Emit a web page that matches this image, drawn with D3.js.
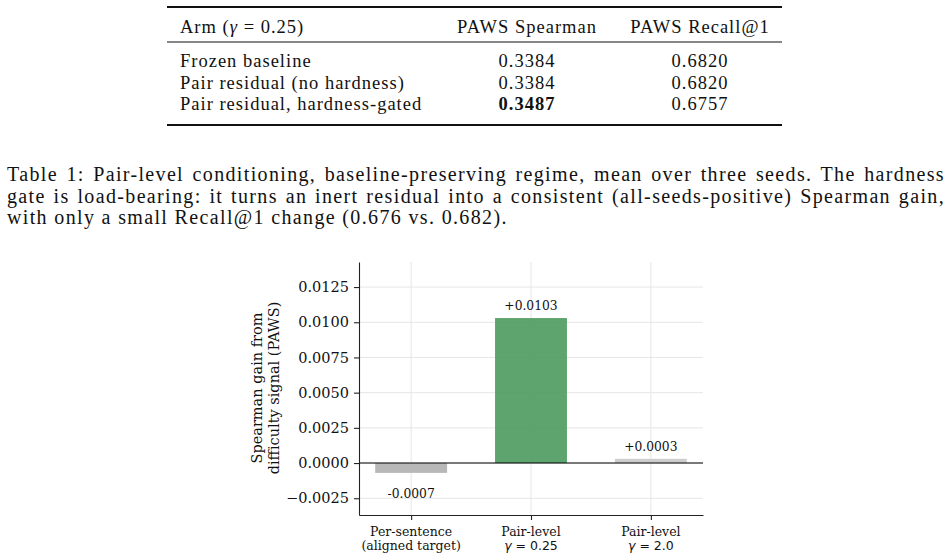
<!DOCTYPE html>
<html>
<head>
<meta charset="utf-8">
<script src="https://cdn.jsdelivr.net/npm/d3@7"></script>
<style>
body{margin:0;background:#fff;}
#canvas{width:950px;height:560px;}
</style>
</head>
<body>
<div id="canvas"></div>
<script>
// table data
var armNames = ["Frozen baseline", "Pair residual (no hardness)", "Pair residual, hardness-gated"];
var spearman = ["0.3384", "0.3384", "0.3487"];
var recall = ["0.6820", "0.6820", "0.6757"];
var colHeaders = ["PAWS Spearman", "PAWS Recall@1"];
var bestRow = 2;

var captionLines = [
	"Table 1: Pair-level conditioning, baseline-preserving regime, mean over three seeds. The hardness",
	"gate is load-bearing: it turns an inert residual into a consistent (all-seeds-positive) Spearman gain,",
	"with only a small Recall@1 change (0.676 vs. 0.682)."
];

// chart data
var catTop = ["Per-sentence", "Pair-level", "Pair-level"];
var catBottom = ["(aligned target)", "0.25", "2.0"];
var gains = [-0.0007, 0.0103, 0.0003];
var yTicks = [-0.0025, 0, 0.0025, 0.005, 0.0075, 0.01, 0.0125];

var barColors = ["#b0b0b0", "#4c9a5e", "#c8c8c8"];

var TEX = "'Liberation Serif', 'Times New Roman', serif";
var MPL_SERIF = "'DejaVu Serif', serif";
var MPL_SANS = "'DejaVu Sans', sans-serif";

var svg;

var init = function(){
	svg = d3.select("#canvas").append("svg")
		.attr("width", 950)
		.attr("height", 560)
		.style("background", "#fff");
	drawTable();
	drawCaption();
	drawChart();
}

var drawTable = function(){
	var g = svg.append("g")
		.attr("font-family", TEX)
		.attr("font-size", "18.5px")
		.attr("letter-spacing", "1px")
		.attr("fill", "#111");
	var left = 167, right = 782;
	var c1 = 180, c2 = 527, c3 = 700;

	g.append("line").attr("x1", left).attr("x2", right).attr("y1", 7).attr("y2", 7)
		.attr("stroke", "#111").attr("stroke-width", 2);
	g.append("line").attr("x1", left).attr("x2", right).attr("y1", 42).attr("y2", 42)
		.attr("stroke", "#111").attr("stroke-width", 1.2);
	g.append("line").attr("x1", left).attr("x2", right).attr("y1", 125).attr("y2", 125)
		.attr("stroke", "#111").attr("stroke-width", 2);

	var h = g.append("text").attr("x", c1).attr("y", 33);
	h.append("tspan").text("Arm (");
	h.append("tspan").attr("font-style", "italic").text("γ");
	h.append("tspan").text(" = 0.25)");

	g.append("text").attr("x", c2).attr("y", 33).attr("text-anchor", "middle").text(colHeaders[0]);
	g.append("text").attr("x", c3).attr("y", 33).attr("text-anchor", "middle").text(colHeaders[1]);

	var rowY = [67, 88.5, 110];
	armNames.forEach(function(name, i){
		g.append("text").attr("x", c1).attr("y", rowY[i]).text(name);
		g.append("text").attr("x", c2).attr("y", rowY[i]).attr("text-anchor", "middle")
			.attr("font-weight", i == bestRow ? "bold" : null)
			.text(spearman[i]);
		g.append("text").attr("x", c3).attr("y", rowY[i]).attr("text-anchor", "middle")
			.text(recall[i]);
	});
}

var drawCaption = function(){
	var g = svg.append("g")
		.attr("font-family", TEX)
		.attr("font-size", "20px")
		.attr("letter-spacing", "1.35px")
		.attr("fill", "#111");
	var lineY = [181, 202.5, 224];
	var x0 = 7, x1 = 945;
	captionLines.forEach(function(line, i){
		var t = g.append("text").attr("x", x0).attr("y", lineY[i]).text(line);
		// justify the full lines by widening the word gaps
		if(i < captionLines.length - 1){
			var w = t.node().getComputedTextLength();
			var gaps = line.split(" ").length - 1;
			t.attr("word-spacing", ((x1 - x0 - w) / gaps) + "px");
		}
	});
}

var drawChart = function(){
	var x = d3.scaleLinear().domain([-0.435, 2.435]).range([359, 703]);
	var y = d3.scaleLinear().domain([-0.00369, 0.01428]).range([515, 262]);
	var barW = x(0.3) - x(-0.3);

	var g = svg.append("g");

	// grid
	g.append("g").selectAll("line").data(yTicks).enter().append("line")
		.attr("x1", x.range()[0]).attr("x2", x.range()[1])
		.attr("y1", function(d){ return y(d); }).attr("y2", function(d){ return y(d); })
		.attr("stroke", "#e6e6e6").attr("stroke-width", 1);
	g.append("g").selectAll("line").data(gains).enter().append("line")
		.attr("x1", function(d, i){ return x(i); }).attr("x2", function(d, i){ return x(i); })
		.attr("y1", y.range()[0]).attr("y2", y.range()[1])
		.attr("stroke", "#e6e6e6").attr("stroke-width", 1);

	// bars
	g.append("g").selectAll("rect").data(gains).enter().append("rect")
		.attr("x", function(d, i){ return x(i) - barW / 2; })
		.attr("width", barW)
		.attr("y", function(d){ return y(Math.max(0, d)); })
		.attr("height", function(d){ return Math.abs(y(d) - y(0)); })
		.attr("fill", function(d, i){ return barColors[i]; })
		.attr("fill-opacity", 0.9);

	// zero line
	g.append("line")
		.attr("x1", x.range()[0]).attr("x2", x.range()[1])
		.attr("y1", y(0)).attr("y2", y(0))
		.attr("stroke", "#000").attr("stroke-width", 1.1);

	// value labels
	g.append("g").selectAll("text").data(gains).enter().append("text")
		.attr("x", function(d, i){ return x(i); })
		.attr("y", function(d){ return d >= 0 ? y(d) - 8 : y(d) + 25; })
		.attr("text-anchor", "middle")
		.attr("font-family", MPL_SERIF)
		.attr("font-size", "12.3px")
		.attr("fill", "#111")
		.text(function(d){ return (d >= 0 ? "+" : "-") + Math.abs(d).toFixed(4); });

	// y axis
	var yAxis = d3.axisLeft(y).tickValues(yTicks).tickFormat(d3.format(".4f"))
		.tickSize(5).tickSizeOuter(0).tickPadding(5);
	var ya = g.append("g").attr("transform", "translate(" + x.range()[0] + ",0)").call(yAxis);
	ya.select(".domain").attr("stroke", "#222").attr("stroke-width", 1.1);
	ya.selectAll(".tick line").attr("stroke", "#222").attr("stroke-width", 1.1);
	ya.selectAll(".tick text").attr("font-family", MPL_SERIF).attr("font-size", "14.5px").attr("fill", "#111");

	// x axis
	var xAxis = d3.axisBottom(x).tickValues([0, 1, 2]).tickFormat("")
		.tickSize(5).tickSizeOuter(0);
	var xa = g.append("g").attr("transform", "translate(0," + y.range()[0] + ")").call(xAxis);
	xa.select(".domain").attr("stroke", "#222").attr("stroke-width", 1.1);
	xa.selectAll(".tick line").attr("stroke", "#222").attr("stroke-width", 1.1);

	var xl = g.append("g").attr("font-size", "12.5px").attr("fill", "#111").attr("text-anchor", "middle");
	catTop.forEach(function(c, i){
		xl.append("text").attr("x", x(i)).attr("y", 536)
			.attr("font-family", MPL_SERIF).text(c);
		var t = xl.append("text").attr("x", x(i)).attr("y", 550);
		if(i == 0){
			t.attr("font-family", MPL_SERIF).text(catBottom[i]);
		}else{
			t.attr("font-family", MPL_SANS);
			t.append("tspan").attr("font-style", "italic").text("γ");
			t.append("tspan").text(" = " + catBottom[i]);
		}
	});

	// y label
	var yl = g.append("text")
		.attr("transform", "translate(257,388) rotate(-90)")
		.attr("text-anchor", "middle")
		.attr("font-family", MPL_SERIF)
		.attr("font-size", "14.5px")
		.attr("fill", "#111");
	yl.append("tspan").attr("x", 0).attr("dy", "0.35em").text("Spearman gain from");
	yl.append("tspan").attr("x", 0).attr("dy", "1.2em").text("difficulty signal (PAWS)");
}

init();
</script>
</body>
</html>
